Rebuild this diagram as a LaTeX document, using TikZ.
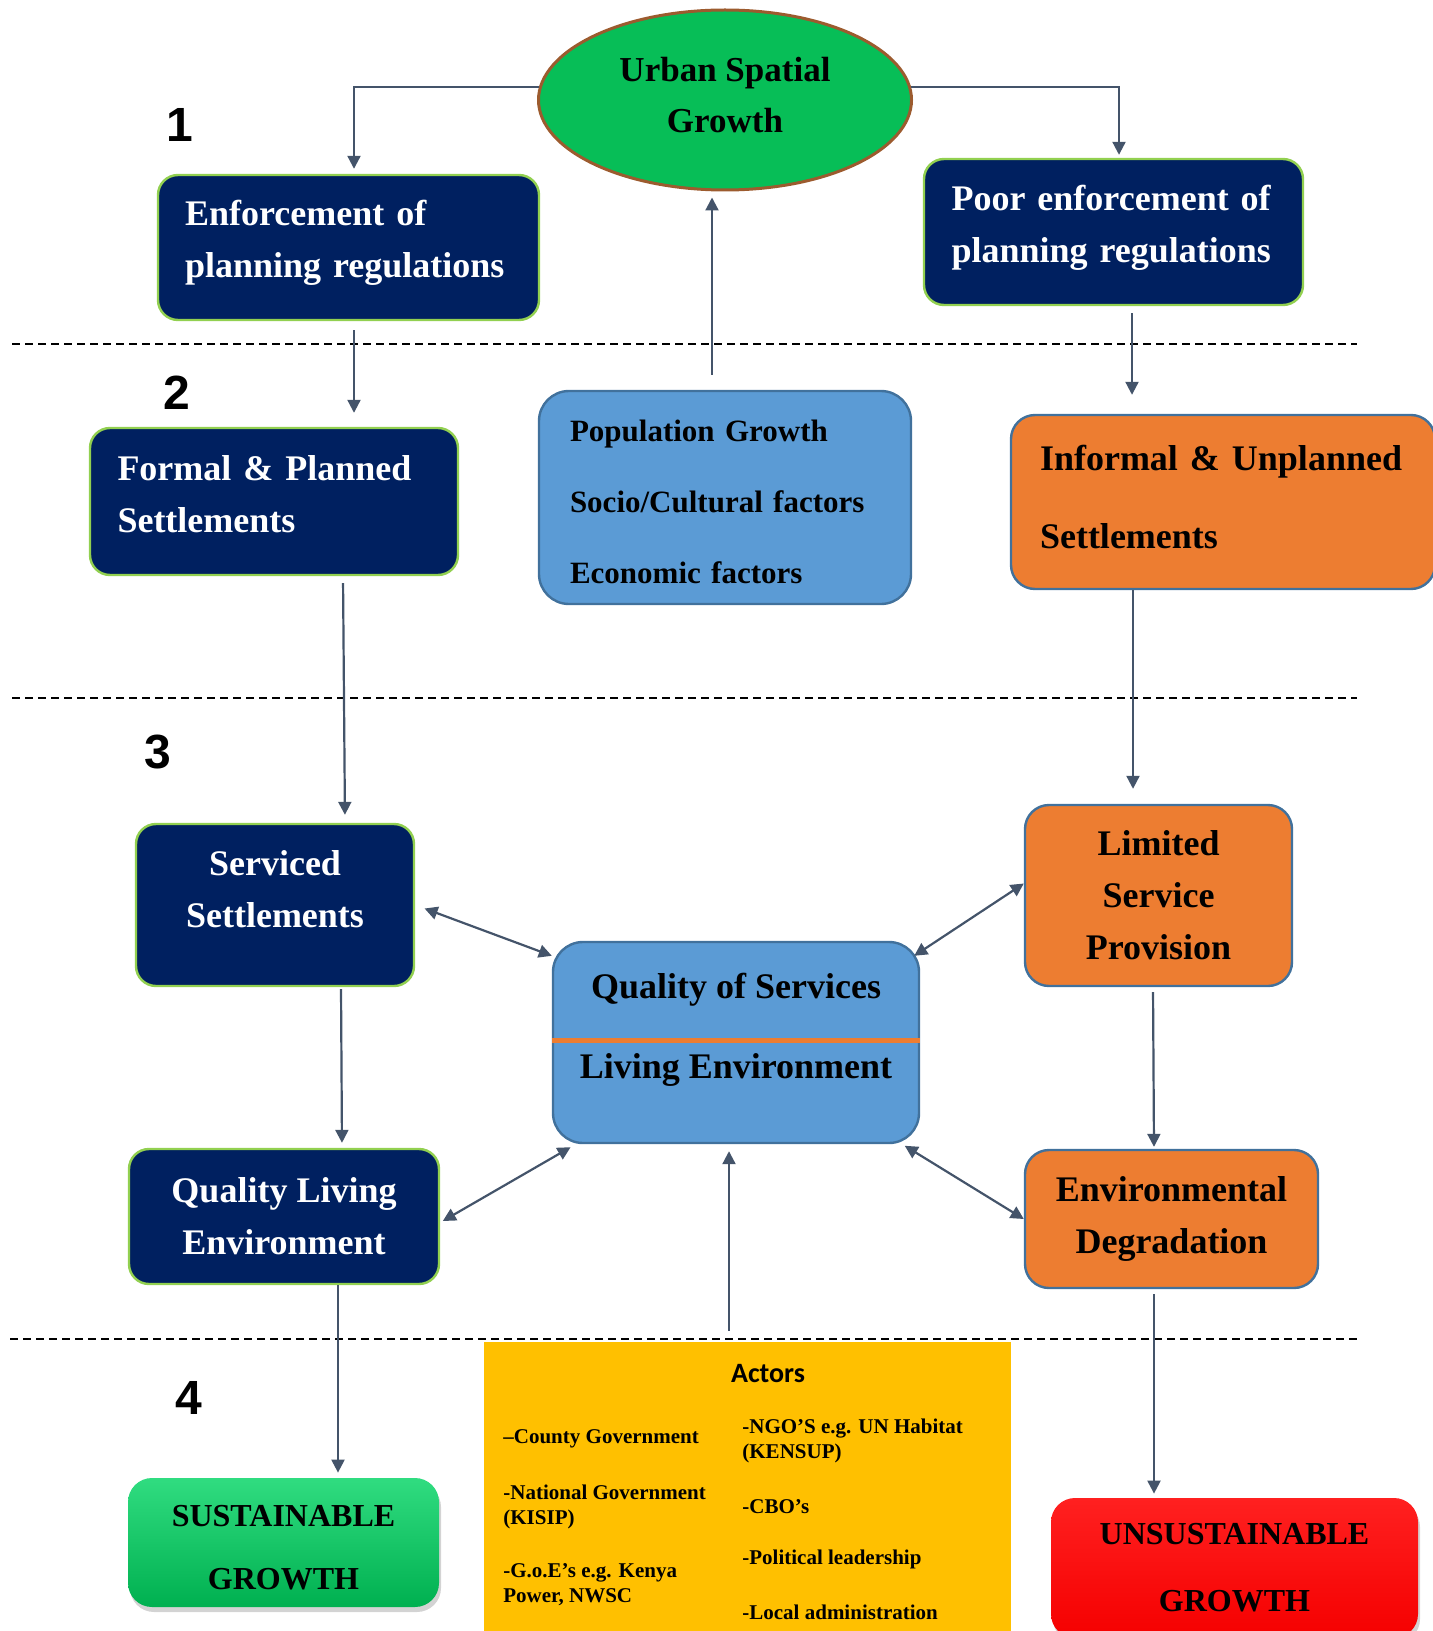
\documentclass[tikz,border=0pt]{standalone}
\usepackage{fontspec}
\setmainfont{Liberation Serif}
\newfontfamily\numfont{Liberation Sans}
\newfontfamily\actfont{Carlito}
\usepackage{tikz}
\usetikzlibrary{shapes.geometric,arrows.meta,shadows,positioning}
\definecolor{navy}{HTML}{002060}
\definecolor{lgreen}{HTML}{92D050}
\definecolor{sblue}{HTML}{5B9BD5}
\definecolor{bordblue}{HTML}{41719C}
\definecolor{orng}{HTML}{ED7D31}
\definecolor{arrc}{HTML}{44546A}
\definecolor{gold}{HTML}{FFC000}
\definecolor{ellgreen}{HTML}{07BE57}
\definecolor{ellbrown}{HTML}{9C5B2E}
\definecolor{sgdk}{HTML}{00B050}
\definecolor{sglt}{HTML}{30DC80}
\definecolor{rdlt}{HTML}{FF2020}
\definecolor{rddk}{HTML}{F50000}

\begin{document}
\begin{tikzpicture}[x=0.5pt, y=-0.5pt,
  arr/.style={draw=arrc, line width=1.1pt, -{Triangle[width=6.5pt,length=6.5pt]}},
  darr/.style={arr, {Triangle[width=6.5pt,length=6.5pt]}-{Triangle[width=6.5pt,length=6.5pt]}},
  dashline/.style={line width=0.7pt, dash pattern=on 4pt off 2.5pt},
  navybox/.style={draw=lgreen, line width=1.2pt, fill=navy, text=white, rounded corners=10pt, font=\fontsize{18}{26}\selectfont\bfseries},
  orangebox/.style={draw=bordblue, line width=1.2pt, fill=orng, text=black, rounded corners=12pt, font=\fontsize{18}{26}\selectfont\bfseries},
  bluebox/.style={draw=bordblue, line width=1.2pt, fill=sblue, rounded corners=15pt},
  numlabel/.style={font=\numfont\bfseries\fontsize{24}{24}\selectfont},
  actitem/.style={anchor=west, align=left, inner sep=0pt, font=\fontsize{10.5}{12.5}\selectfont\bfseries},
  endbox/.style={rounded corners=12pt, align=center, drop shadow={opacity=0.35, shadow xshift=1pt, shadow yshift=-2.5pt}}
]
   \clip (0,0) rectangle (1433,1631);

   \node[ellipse, draw=ellbrown, line width=1.5pt, fill=ellgreen, minimum width=186.5pt, minimum height=90pt, align=center, text depth=5pt, font=\fontsize{17.5}{25.5}\selectfont\bfseries] (usg) at (725,100) {Urban Spatial\\Growth};

   \node[numlabel] (n1) at (180,125) {1};
   \node[numlabel] (n2) at (177,393) {2};
   \node[numlabel] (n3) at (158,752) {3};
   \node[numlabel] (n4) at (189,1398) {4};

   \node[navybox, text width=163.5pt, inner xsep=13.5pt, minimum height=72.5pt, align=left, text depth=35pt] (enf) at (348.5,247.5) {Enforcement of\\planning regulations};
   \node[navybox, text width=162pt, inner xsep=13.75pt, minimum height=73pt, align=left, text depth=34pt] (poor) at (1113.5,232) {Poor enforcement of\\planning regulations};
   \node[navybox, text width=156.5pt, inner xsep=13.75pt, minimum height=73.5pt, align=left, text depth=33.3pt] (form) at (274,501.5) {Formal \& Planned\\Settlements};
   \node[bluebox, text width=155pt, inner xsep=15.5pt, minimum height=106.5pt, align=left, text height=15.4pt, font=\fontsize{15.5}{35.5}\selectfont\bfseries] (pop) at (725,497.5) {Population Growth\\Socio/Cultural factors\\Economic factors};
   \node[orangebox, text width=183pt, inner xsep=14.5pt, minimum height=87pt, align=left, text depth=44.2pt, font=\fontsize{18}{39}\selectfont\bfseries] (inf) at (1223,502) {Informal \& Unplanned\\Settlements};

   \node[navybox, minimum width=139pt, minimum height=81pt, align=center, text depth=15.6pt] (serv) at (275,905) {Serviced\\Settlements};
   \node[orangebox, minimum width=133.5pt, minimum height=90.5pt, align=center] (lim) at (1158.5,895.5) {Limited\\Service\\Provision};
   \node[bluebox, minimum width=183pt, minimum height=100.5pt] (qual) at (736,1042.5) {};
   \draw[orng, line width=2.5pt] (qual.west |- 0,1040) -- (qual.east |- 0,1040);
   \node[font=\fontsize{18}{26}\selectfont\bfseries] (qs) at (736,990) {Quality of Services};
   \node[font=\fontsize{18}{26}\selectfont\bfseries] (le) at (736,1070) {Living Environment};
   \node[navybox, minimum width=155pt, minimum height=67.5pt, align=center] (ql) at (284,1216.5) {Quality Living\\Environment};
   \node[orangebox, minimum width=146.5pt, minimum height=69pt, align=center] (env) at (1171.5,1219) {Environmental\\Degradation};

   \node[fill=gold, inner sep=0pt, minimum width=263.5pt, minimum height=144.5pt] (act) at (747.5,1486.5) {};
   \node[font=\actfont\bfseries\fontsize{14}{14}\selectfont] (acttl) at (768,1374) {Actors};
   \node[actitem] (a1) at (503,1439) {–County Government};
   \node[actitem] (a2) at (503,1507) {-National Government\\(KISIP)};
   \node[actitem] (a3) at (503,1585) {-G.o.E’s e.g. Kenya\\Power, NWSC};
   \node[actitem] (a4) at (742,1441) {-NGO’S e.g. UN Habitat\\(KENSUP)};
   \node[actitem] (a5) at (742,1507) {-CBO’s};
   \node[actitem] (a6) at (742,1559) {-Political leadership};
   \node[actitem] (a7) at (742,1612) {-Local administration};

   \node[endbox, top color=sglt, bottom color=sgdk, minimum width=155.5pt, minimum height=64.5pt, text height=46.9pt, font=\fontsize{16}{31.5}\selectfont\bfseries] (sus) at (283.5,1542.5) {SUSTAINABLE\\GROWTH};
   \node[endbox, top color=rdlt, bottom color=rddk, minimum width=183.5pt, minimum height=70pt, font=\fontsize{16}{33.5}\selectfont\bfseries] (uns) at (1234.5,1568) {UNSUSTAINABLE\\GROWTH};

   \draw[dashline] (12,344) -- (1357,344);
   \draw[dashline] (12,698) -- (1357,698);
   \draw[dashline] (10,1339) -- (1357,1339);

   \draw[arr, shorten >=2.5pt] (usg.176) -| ([xshift=2.75pt]enf.north);
   \draw[arr, shorten >=1.5pt] (usg.4) -| ([xshift=2.75pt]poor.north);
   \draw[arr, shorten <=7.5pt, shorten >=3pt] ([xshift=-6.5pt]pop.north) -- ([xshift=-6.5pt]pop.north |- usg.south);
   \draw[arr, shorten <=4.5pt, shorten >=7pt] ([xshift=2.75pt]enf.south) -- ([xshift=2.75pt]enf.south |- form.north);
   \draw[arr, shorten <=3.5pt, shorten >=9.5pt] ([xshift=9.25pt]poor.south) -- ([xshift=9.25pt]poor.south |- inf.north);
   \draw[arr, shorten <=3.5pt, shorten >=4pt] ([xshift=34.5pt]form.south) -- ([xshift=35pt]serv.north);
   \draw[arr, shorten >=7.5pt] ([xshift=-45pt]inf.south) -- ([xshift=-45pt]inf.south |- lim.north);
   \draw[darr, shorten <=5pt] (serv.east) -- ([yshift=-7.5pt]qual.north west);
   \draw[darr] ([yshift=6pt]lim.west) -- ([xshift=-3pt,yshift=-7.5pt]qual.north east);
   \draw[arr, shorten <=1pt, shorten >=2.5pt] ([xshift=33pt]serv.south) -- ([xshift=29pt]ql.north);
   \draw[arr, shorten <=2.5pt, shorten >=1pt] ([xshift=-2.75pt]lim.south) -- ([xshift=-8.75pt]env.north);
   \draw[darr, shorten <=1.5pt, shorten >=3pt] ([yshift=-3pt]ql.east) -- ([xshift=12pt]qual.south west);
   \draw[darr, shorten >=1.5pt] (env.west) -- ([xshift=-9pt]qual.south east);
   \draw[arr, shorten <=5.5pt, shorten >=3.5pt] ([xshift=-9.25pt]act.north) -- ([xshift=-9.25pt]act.north |- qual.south);
   \draw[arr, shorten >=2.5pt] ([xshift=27pt]ql.south) -- ([xshift=27pt]ql.south |- sus.north);
   \draw[arr, shorten <=2.5pt, shorten >=2pt] ([xshift=-8.75pt]env.south) -- ([xshift=-8.75pt]env.south |- uns.north);
\end{tikzpicture}
\end{document}
